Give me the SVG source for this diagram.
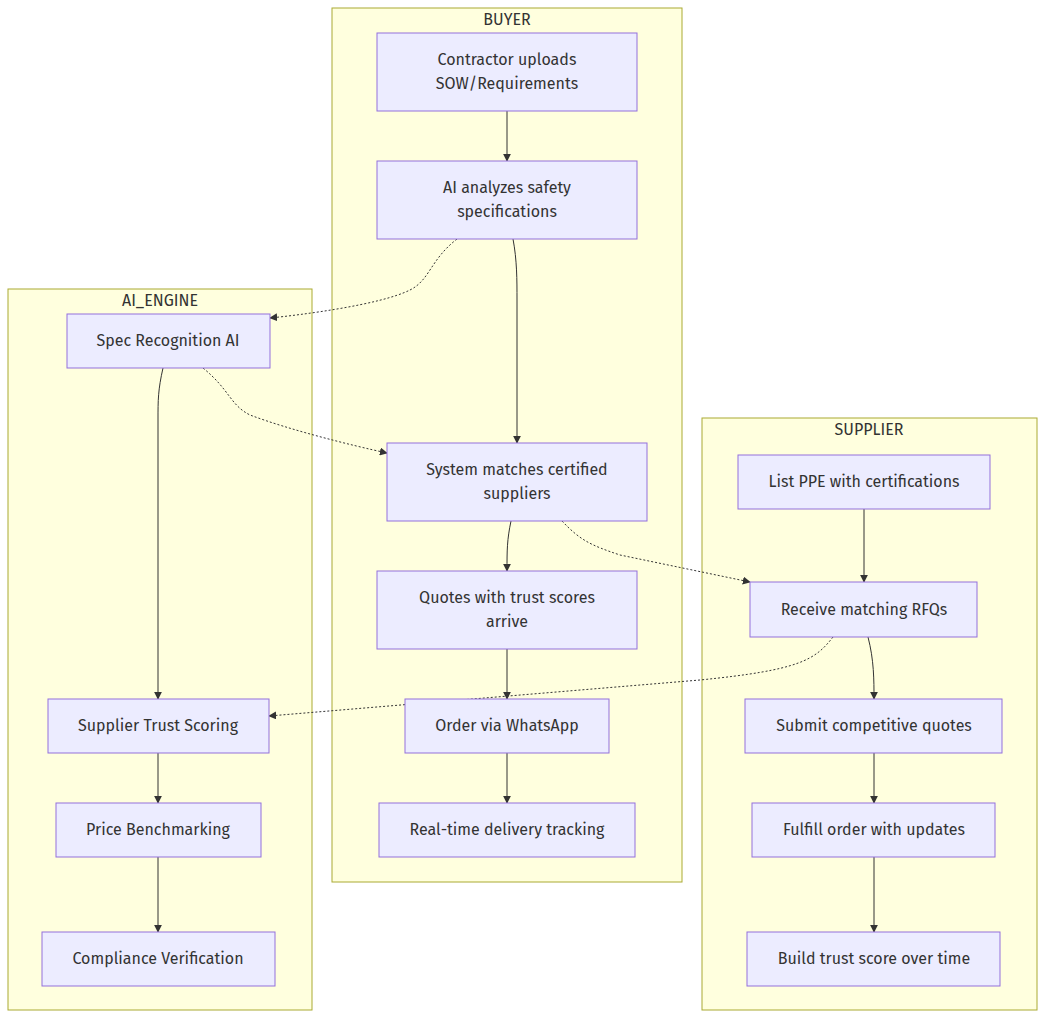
<svg xmlns="http://www.w3.org/2000/svg" width="1045" height="1019" viewBox="0 0 1045 1019">
<style>
.cl{fill:#ffffde;stroke:#aaaa33;stroke-width:1}
.n rect{fill:#ECECFF;stroke:#9370DB;stroke-width:1}
text{font-family:"Fira Sans","Open Sans","Liberation Sans",sans-serif;font-size:16px;fill:#333;text-anchor:middle}
.e{fill:none;stroke:#333;stroke-width:1}
.d{stroke-dasharray:2 2}
</style>
<defs><marker id="ar" viewBox="0 0 10 10" refX="9" refY="5" markerWidth="8" markerHeight="8" orient="auto"><path d="M0,0L10,5L0,10z" fill="#333"/></marker></defs>
<rect width="1045" height="1019" fill="#fff"/>
<g id="BUYER"><rect class="cl" x="332" y="8" width="350" height="874"/><text x="507" y="25">BUYER</text></g>
<g id="AI_ENGINE"><rect class="cl" x="8" y="289" width="304" height="721"/><text x="160" y="306">AI_ENGINE</text></g>
<g id="SUPPLIER"><rect class="cl" x="702" y="418" width="335" height="592"/><text x="869" y="435">SUPPLIER</text></g>
<g id="edges" marker-end="url(#ar)">
<path class="e" d="M507,111L507,161"/>
<path class="e" d="M513,239C517,260 517,280 517,300L517,443"/>
<path class="e d" d="M457,239C430,260 430,280 410,290C380,305 300,315 270,318"/>
<path class="e d" d="M203,368C230,390 230,405 250,415C290,430 350,445 387,453"/>
<path class="e" d="M163,368C158,390 158,400 158,420L158,699"/>
<path class="e" d="M511,521C507,540 507,550 507,571"/>
<path class="e d" d="M562,521C580,540 590,545 620,555L750,582"/>
<path class="e" d="M864,509L864,582"/>
<path class="e" d="M868,637C874,660 874,680 874,699"/>
<path class="e d" d="M833,637C815,660 800,670 700,680L269,716"/>
<path class="e" d="M507,649L507,699"/>
<path class="e" d="M507,753L507,803"/>
<path class="e" d="M158,753L158,803"/>
<path class="e" d="M158,857L158,932"/>
<path class="e" d="M874,753L874,803"/>
<path class="e" d="M874,857L874,932"/>
</g>
<g id="A" class="n"><rect x="377" y="33" width="260" height="78"/><text x="507" y="65">Contractor uploads</text><text x="507" y="89">SOW/Requirements</text></g>
<g id="B" class="n"><rect x="377" y="161" width="260" height="78"/><text x="507" y="193">AI analyzes safety</text><text x="507" y="217">specifications</text></g>
<g id="C" class="n"><rect x="387" y="443" width="260" height="78"/><text x="517" y="475">System matches certified</text><text x="517" y="499">suppliers</text></g>
<g id="D" class="n"><rect x="377" y="571" width="260" height="78"/><text x="507" y="603">Quotes with trust scores</text><text x="507" y="627">arrive</text></g>
<g id="E" class="n"><rect x="405" y="699" width="204" height="54"/><text x="507" y="731">Order via WhatsApp</text></g>
<g id="F" class="n"><rect x="379" y="803" width="256" height="54"/><text x="507" y="835">Real-time delivery tracking</text></g>
<g id="G" class="n"><rect x="67" y="314" width="203" height="54"/><text x="168" y="346">Spec Recognition AI</text></g>
<g id="H" class="n"><rect x="48" y="699" width="221" height="54"/><text x="158" y="731">Supplier Trust Scoring</text></g>
<g id="I" class="n"><rect x="56" y="803" width="205" height="54"/><text x="158" y="835">Price Benchmarking</text></g>
<g id="J" class="n"><rect x="42" y="932" width="233" height="54"/><text x="158" y="964">Compliance Verification</text></g>
<g id="K" class="n"><rect x="738" y="455" width="252" height="54"/><text x="864" y="487">List PPE with certifications</text></g>
<g id="L" class="n"><rect x="750" y="582" width="227" height="55"/><text x="864" y="615">Receive matching RFQs</text></g>
<g id="M" class="n"><rect x="745" y="699" width="257" height="54"/><text x="874" y="731">Submit competitive quotes</text></g>
<g id="N" class="n"><rect x="752" y="803" width="243" height="54"/><text x="874" y="835">Fulfill order with updates</text></g>
<g id="O" class="n"><rect x="747" y="932" width="253" height="54"/><text x="874" y="964">Build trust score over time</text></g>
</svg>
